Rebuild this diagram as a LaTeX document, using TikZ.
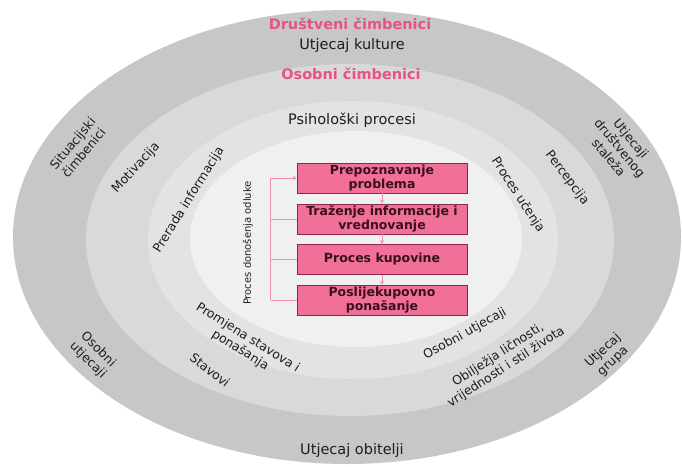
\documentclass[tikz,border=0pt]{standalone}
\usepackage{fontspec}
\setmainfont{DejaVu Sans}
\usetikzlibrary{positioning,arrows.meta}

\definecolor{boxpink}{RGB}{240,112,152}
\definecolor{boxedge}{RGB}{140,40,80}
\definecolor{boxtext}{RGB}{60,15,30}
\definecolor{titlepink}{RGB}{232,82,132}
\definecolor{linkpink}{RGB}{240,140,175}
\definecolor{labeltext}{RGB}{30,30,30}

\tikzset{
  stage/.style={draw=boxedge, fill=boxpink, minimum width=170pt,
    minimum height=30pt, inner sep=1pt, align=center, text=boxtext,
    font=\fontsize{12.5}{13.5}\selectfont\bfseries},
  ringlabel/.style={text=labeltext, inner sep=0pt,
    font=\fontsize{14.5}{16}\selectfont},
  bandlabel/.style={align=center, text=labeltext, inner sep=0pt,
    font=\fontsize{12.5}{14.5}\selectfont},
  grouplabel/.style={text=titlepink, inner sep=0pt,
    font=\fontsize{14.5}{16}\selectfont\bfseries},
  flowarrow/.style={draw=linkpink, line width=0.8pt,
    -{Stealth[length=4pt, width=4pt]}},
  fbline/.style={draw=linkpink, line width=0.8pt}
}

\begin{document}
\begin{tikzpicture}[x=1pt, y=-1pt]

    % Draw background
    \fill[white] (0, 0) rectangle (682, 466);
    \useasboundingbox (0, 0) rectangle (682, 466);

    % Draw rings, from the outside in
    \foreach \cx/\cy/\rx/\ry/\g in {347/237/334/227/78, 350/240/264/176/85,
      353/240/205/139/89, 356/239/166/108/94}{
      \fill[white!\g!black] (\cx, \cy) ellipse [x radius=\rx, y radius=\ry];
    }

    % Outer ring
    \node[grouplabel] (social) at (350, 24) {Društveni čimbenici};
    \node[ringlabel] (culture) at (352, 45) {Utjecaj kulture};
    \node[bandlabel, rotate=50] (situation) at (78, 148) {Situacijski\\čimbenici};
    \node[bandlabel, rotate=-50] (class) at (620, 148) {Utjecaji\\društvenog\\staleža};
    \node[bandlabel, rotate=-45] (personalinf) at (93, 355) {Osobni\\utjecaji};
    \node[bandlabel, rotate=43] (groups) at (608, 356) {Utjecaj\\grupa};
    \node[ringlabel] (family) at (352, 450) {Utjecaj obitelji};

    % Middle ring
    \node[grouplabel] (personal) at (351, 74) {Osobni čimbenici};
    \node[bandlabel, rotate=47] (motivation) at (136, 168) {Motivacija};
    \node[bandlabel, rotate=-53] (perception) at (567, 178) {Percepcija};
    \node[bandlabel, rotate=-38] (attitudes) at (210, 370) {Stavovi};
    \node[bandlabel, rotate=33] (personality) at (502, 361)
      {Obilježja ličnosti,\\vrijednosti i stil života};

    % Inner ring
    \node[ringlabel] (psych) at (352, 120) {Psihološki procesi};
    \node[bandlabel, rotate=58] (infoproc) at (189, 200) {Prerada informacija};
    \node[bandlabel, rotate=-57] (learning) at (518, 195) {Proces učenja};
    \node[bandlabel, rotate=-32] (change) at (244, 344) {Promjena stavova i\\ponašanja};
    \node[bandlabel, rotate=29] (personaleff) at (465, 334) {Osobni utjecaji};

    % Decision process
    \node[stage] (recog) at (382, 178) {Prepoznavanje\\problema};
    \node[stage, below=10.5pt of recog] (search) {Traženje informacije i\\vrednovanje};
    \node[stage, below=10pt of search] (purchase) {Proces kupovine};
    \node[stage, below=10.5pt of purchase] (post) {Poslijekupovno\\ponašanje};
    \node[text=labeltext, inner sep=0pt, rotate=90,
      font=\fontsize{10}{12}\selectfont] (decision) at (248, 243)
      {Proces donošenja odluke};

    % Arrows between the steps
    \foreach \a/\b in {recog/search, search/purchase, purchase/post}{
      \draw[flowarrow] (\a) -- (\b);
    }

    % Feedback line on the left
    \coordinate (fbtop) at ([xshift=-26pt]recog.west);
    \coordinate (fbbot) at ([xshift=-26pt]post.west);
    \draw[fbline] (fbbot) -- (fbtop);
    \draw[flowarrow] (fbtop) -- (recog.west);
    \foreach \b in {search, purchase, post}{
      \draw[fbline] (\b.west -| fbtop) -- (\b.west);
    }

  \end{tikzpicture}
\end{document}
